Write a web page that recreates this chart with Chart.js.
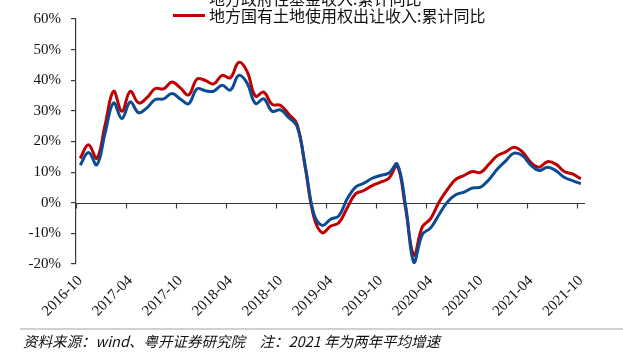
<!DOCTYPE html>
<html>
<head>
<meta charset="utf-8">
<script src="https://cdn.jsdelivr.net/npm/chart.js@4/dist/chart.umd.min.js"></script>
<style>
  html, body { margin: 0; padding: 0; background: #fff; }
  #wrap { position: relative; width: 623px; height: 364px; overflow: hidden; }
  #c { position: absolute; left: 0; top: 0; }
  .leg { position: absolute; font-family: "Noto Sans CJK SC", sans-serif; font-size: 16px; line-height: 16px; color: #111; white-space: nowrap; }
  .legline { position: absolute; height: 3px; width: 32px; }
  #rule { position: absolute; left: 20px; top: 328px; width: 603px; height: 2px; background: #d0d0d0; }
  #src { position: absolute; left: 23px; top: 332px; font-family: "Noto Sans CJK SC", sans-serif; font-size: 14.5px; line-height: 18px; font-style: italic; color: #111; white-space: nowrap; }
</style>
</head>
<body>
<div id="wrap">
  <canvas id="c" width="623" height="364"></canvas>
  <div class="legline" style="left:173px; top:-4px; background:#0a4b94;"></div>
  <div class="leg" style="left:209px; top:-10px;">地方政府性基金收入:累计同比</div>
  <div class="legline" style="left:173px; top:14px; background:#c00000;"></div>
  <div class="leg" style="left:209px; top:7px;">地方国有土地使用权出让收入:累计同比</div>
  <div id="rule"></div>
  <div id="src">资料来源：wind、粤开证券研究院　注：2021 年为两年平均增速</div>
</div>
<script>
// Monthly categories 2016-10 .. 2021-10
const categories = [
  "2016-10","2016-11","2016-12",
  "2017-01","2017-02","2017-03","2017-04","2017-05","2017-06","2017-07","2017-08","2017-09","2017-10","2017-11","2017-12",
  "2018-01","2018-02","2018-03","2018-04","2018-05","2018-06","2018-07","2018-08","2018-09","2018-10","2018-11","2018-12",
  "2019-01","2019-02","2019-03","2019-04","2019-05","2019-06","2019-07","2019-08","2019-09","2019-10","2019-11","2019-12",
  "2020-01","2020-02","2020-03","2020-04","2020-05","2020-06","2020-07","2020-08","2020-09","2020-10","2020-11","2020-12",
  "2021-01","2021-02","2021-03","2021-04","2021-05","2021-06","2021-07","2021-08","2021-09","2021-10"
];

// 地方政府性基金收入:累计同比 (%)
const fundIncome = [
  12.3, 16.4, 12.4, 22.9, 32.6, 27.5, 32.9, 29.4, 31.0, 33.7,
  33.9, 35.7, 33.9, 32.3, 37.2, 36.6, 36.4, 38.4, 36.8, 41.6,
  39.1, 32.4, 33.9, 29.9, 30.3, 27.8, 24.9, 11.6, -3.6, -7.4,
  -5.4, -4.3, 1.3, 5.1, 6.4, 8.0, 8.9, 9.7, 12.6, -0.9,
  -19.5, -10.4, -8.2, -3.9, 0.2, 2.6, 3.5, 4.8, 5.1, 7.6,
  11.0, 13.7, 16.2, 15.4, 12.3, 10.5, 11.6, 10.5, 8.3, 7.2,
  6.2
];

// 地方国有土地使用权出让收入:累计同比 (%)
const landIncome = [
  14.5, 18.9, 14.5, 25.6, 36.4, 29.9, 36.4, 32.6, 34.3, 37.3,
  37.2, 39.4, 37.5, 35.2, 40.4, 39.9, 38.8, 41.6, 40.8, 45.8,
  42.9, 34.8, 36.1, 32.1, 31.8, 28.9, 25.6, 11.0, -4.6, -9.8,
  -7.7, -6.5, -1.7, 2.9, 4.0, 5.6, 6.7, 8.0, 12.1, -1.9,
  -17.1, -7.9, -5.2, 0.2, 4.3, 7.6, 8.9, 10.2, 9.9, 12.6,
  15.4, 16.6, 18.1, 16.6, 13.2, 11.6, 13.4, 12.6, 10.2, 9.4,
  7.8
];

const yTicks = [-20, -10, 0, 10, 20, 30, 40, 50, 60];
const labelEvery = 6;

const AXIS_COLOR = '#3a3a3a';

const zeroAxisPlugin = {
  id: 'zeroAxis',
  beforeDatasetsDraw(chart) {
    const ctx = chart.ctx;
    const xs = chart.scales.x, ys = chart.scales.y;
    const y0 = Math.round(ys.getPixelForValue(0)) + 0.5;
    const half = (xs.getPixelForValue(1) - xs.getPixelForValue(0)) / 2;
    ctx.save();
    ctx.strokeStyle = AXIS_COLOR;
    ctx.lineWidth = 1.2;
    ctx.beginPath();
    ctx.moveTo(chart.chartArea.left, y0);
    ctx.lineTo(chart.chartArea.right, y0);
    for (let i = 0; i < categories.length; i += labelEvery) {
      const x = Math.round(xs.getPixelForValue(i) - half) + 0.5;
      ctx.moveTo(x, y0);
      ctx.lineTo(x, y0 + 5);
    }
    ctx.stroke();
    ctx.restore();
  }
};

new Chart(document.getElementById('c'), {
  type: 'line',
  data: {
    labels: categories,
    datasets: [
      {
        label: '地方政府性基金收入:累计同比',
        data: fundIncome,
        borderColor: '#0a4b94',
        borderWidth: 3,
        pointRadius: 0,
        tension: 0.4,
        fill: false
      },
      {
        label: '地方国有土地使用权出让收入:累计同比',
        data: landIncome,
        borderColor: '#c00000',
        borderWidth: 3,
        pointRadius: 0,
        tension: 0.4,
        fill: false
      }
    ]
  },
  options: {
    responsive: false,
    animation: false,
    devicePixelRatio: 1,
    layout: { padding: { top: 15, right: 38, left: 0, bottom: 0 } },
    plugins: { legend: { display: false }, tooltip: { enabled: false } },
    scales: {
      x: {
        type: 'category',
        offset: true,
        grid: { display: false, drawTicks: false },
        border: { display: false },
        afterFit(s) { s.height = 100; },
        ticks: {
          autoSkip: false,
          maxRotation: 45,
          minRotation: 45,
          padding: 8,
          color: '#111',
          font: { family: '"Liberation Serif", "Times New Roman", serif', size: 15 },
          callback(value, index) { return index % labelEvery === 0 ? categories[index] : null; }
        }
      },
      y: {
        min: -20,
        max: 60,
        afterFit(s) { s.width = 76; },
        afterBuildTicks(s) { s.ticks = yTicks.map(v => ({ value: v })); },
        grid: { drawOnChartArea: false, drawTicks: true, tickLength: 5, color: AXIS_COLOR, lineWidth: 1.2 },
        border: { display: true, color: AXIS_COLOR, width: 1.2 },
        ticks: {
          padding: 10,
          color: '#111',
          font: { family: '"Liberation Serif", "Times New Roman", serif', size: 15 },
          callback(v) { return v + '%'; }
        }
      }
    }
  },
  plugins: [zeroAxisPlugin]
});
</script>
</body>
</html>
